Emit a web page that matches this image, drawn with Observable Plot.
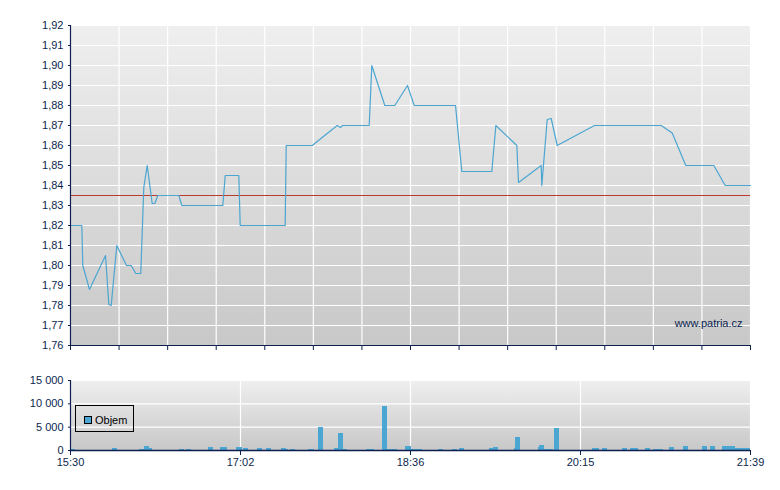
<!DOCTYPE html>
<html><head><meta charset="utf-8">
<script src="https://cdn.jsdelivr.net/npm/d3@7"></script>
<script src="https://cdn.jsdelivr.net/npm/@observablehq/plot@0.6"></script>
<style>
body{margin:0;background:#fff;font-family:"Liberation Sans",Arial,sans-serif;}
#wrap{position:relative;width:780px;height:490px;overflow:hidden;}
#topChart{position:absolute;left:0;top:0;}
#bottomChart{position:absolute;left:0;top:360px;}
#legend{position:absolute;left:75px;top:405px;width:59px;height:27px;border:1px solid #000;box-sizing:border-box;}
#legend .sw{position:absolute;left:8px;top:10px;width:8px;height:8px;box-sizing:border-box;border:1px solid #000;background:#4ba6d1;}
#legend .lb{position:absolute;left:19px;top:7px;font-size:11px;color:#000;line-height:14px;}
</style></head>
<body><div id="wrap"><div id="topChart"></div><div id="bottomChart"></div>
<div id="legend"><div class="sw"></div><div class="lb">Objem</div></div></div>
<script>
// time axis in equal slots (0 = 15:30 ... 14 = 21:39)
const gridSlots = [0,1,2,3,4,5,6,7,8,9,10,11,12,13,14];
const timeLabelPos = [0,3.5,7,10.5,14];
const timeLabels = ["15:30","17:02","18:36","20:15","21:39"];
const priceTicks = [1.76,1.77,1.78,1.79,1.80,1.81,1.82,1.83,1.84,1.85,1.86,1.87,1.88,1.89,1.90,1.91,1.92];
const refPrice = 1.835;
const priceX = [0,0.233,0.253,0.391,0.721,0.789,0.838,0.953,1.153,1.250,1.344,1.447,1.509,1.579,1.682,1.736,1.797,2.230,2.292,3.136,3.185,3.465,3.494,4.420,4.441,4.976,5.491,5.559,5.600,6.150,6.203,6.471,6.677,6.938,7.076,7.927,8.056,8.674,8.757,9.189,9.224,9.691,9.703,9.815,9.897,10.020,10.788,12.161,12.388,12.668,13.245,13.479,14];
const priceY = [1.82,1.82,1.80,1.788,1.805,1.7805,1.78,1.81,1.80,1.80,1.796,1.796,1.839,1.85,1.831,1.831,1.835,1.835,1.83,1.83,1.845,1.845,1.82,1.82,1.86,1.86,1.87,1.869,1.87,1.87,1.90,1.88,1.88,1.89,1.88,1.88,1.847,1.847,1.87,1.86,1.8415,1.85,1.84,1.873,1.8735,1.86,1.87,1.87,1.8663,1.85,1.85,1.84,1.84];
const volTicks = [0,5000,10000,15000];
const volX1 = [0.014,0.865,1.421,1.524,1.626,2.244,2.388,2.841,3.088,3.418,3.562,3.850,4.035,4.344,4.447,4.529,4.900,5.106,5.435,5.518,5.621,6.094,6.424,6.526,6.897,7.021,7.576,7.865,8.009,8.626,8.709,9.141,9.162,9.635,9.656,9.759,9.965,10.747,10.953,11.365,11.529,11.838,12.003,12.332,12.621,13.012,13.176,13.424,13.691];
const volX2 = [0.097,0.968,1.524,1.626,1.688,2.347,2.491,2.944,3.232,3.541,3.665,3.953,4.138,4.447,4.488,4.632,5.024,5.209,5.518,5.621,5.703,6.259,6.526,6.732,7.021,7.247,7.679,7.968,8.112,8.709,8.812,9.162,9.265,9.656,9.759,9.944,10.068,10.891,11.056,11.468,11.694,11.941,12.209,12.435,12.724,13.115,13.279,13.691,14.000];
const volume = [300,430,200,860,430,200,200,640,640,640,430,430,430,430,200,200,200,4930,430,3640,200,200,9430,200,860,200,200,200,430,430,640,430,2790,640,1070,200,4710,430,430,430,430,430,200,640,860,860,860,860,430];

const navy = "#0c1f4f";
const blue = "#4ba6d1";
const price = priceX.map((x,i)=>({x, y:priceY[i]}));
const vol = volX1.map((x1,i)=>({x1, x2:volX2[i], v:volume[i]}));

function bg(id){
  return (index, scales, values, dims) => {
    const g = d3.create("svg:g");
    const grad = g.append("defs").append("linearGradient").attr("id",id)
      .attr("x1",0).attr("y1",0).attr("x2",0).attr("y2",1);
    grad.append("stop").attr("offset","0%").attr("stop-color","#efefef");
    grad.append("stop").attr("offset","100%").attr("stop-color","#c8c8c8");
    g.append("rect").attr("x",dims.marginLeft).attr("y",dims.marginTop)
      .attr("width",dims.width-dims.marginLeft-dims.marginRight)
      .attr("height",dims.height-dims.marginTop-dims.marginBottom)
      .attr("fill",`url(#${id})`);
    return g.node();
  };
}
const style = {fontFamily:'"Liberation Sans",Arial,sans-serif', fontSize:"11px", color:navy, background:"transparent", overflow:"visible"};

const topPlot = Plot.plot({
  width:780, height:360, marginTop:25, marginLeft:70, marginRight:30, marginBottom:15,
  style,
  x:{domain:[0,14], axis:null},
  y:{domain:[1.76,1.92], axis:null},
  marks:[
    bg("gTop"),
    Plot.ruleY(priceTicks, {stroke:"#fff", strokeWidth:1.2}),
    Plot.ruleX(gridSlots, {stroke:"#fff", strokeWidth:1.2}),
    Plot.ruleY([refPrice], {stroke:"#b83a30", strokeWidth:1}),
    Plot.line(price, {x:"x", y:"y", stroke:blue, strokeWidth:1.2}),
    Plot.axisY(priceTicks, {label:null, tickSize:2, tickPadding:5, tickFormat:d=>d.toFixed(2).replace(".",","), fill:navy}),
    Plot.axisX(gridSlots, {label:null, tickSize:5, tickFormat:()=>""}),
    Plot.ruleX([0], {stroke:navy, strokeWidth:1.2}),
    Plot.ruleY([1.76], {stroke:navy, strokeWidth:1.2}),
    Plot.text(["www.patria.cz"], {frameAnchor:"bottom-right", dx:-8, dy:-22, lineAnchor:"middle", fill:navy, fontSize:11})
  ]
});
document.getElementById("topChart").appendChild(topPlot);

const bottomPlot = Plot.plot({
  width:780, height:130, marginTop:20, marginLeft:70, marginRight:30, marginBottom:40,
  style,
  x:{domain:[0,14], axis:null},
  y:{domain:[0,15000], axis:null},
  marks:[
    bg("gBot"),
    Plot.ruleY(volTicks, {stroke:"#fff", strokeWidth:1.2}),
    Plot.ruleX(timeLabelPos.slice(1), {stroke:"#fff", strokeWidth:1.2}),
    Plot.rect(vol, {x1:"x1", x2:"x2", y1:0, y2:"v", fill:blue, shapeRendering:"crispEdges"}),
    Plot.axisY(volTicks, {label:null, tickSize:2, tickPadding:5, tickFormat:d=>d3.format(",")(d).replace(/,/g," "), fill:navy}),
    Plot.axisX(timeLabelPos, {label:null, tickSize:5, tickPadding:3, tickFormat:(d,i)=>timeLabels[i], fill:navy}),
    Plot.ruleX([0], {stroke:navy, strokeWidth:1.2}),
    Plot.ruleY([0], {stroke:navy, strokeWidth:1.5})
  ]
});
document.getElementById("bottomChart").appendChild(bottomPlot);
</script></body></html>
